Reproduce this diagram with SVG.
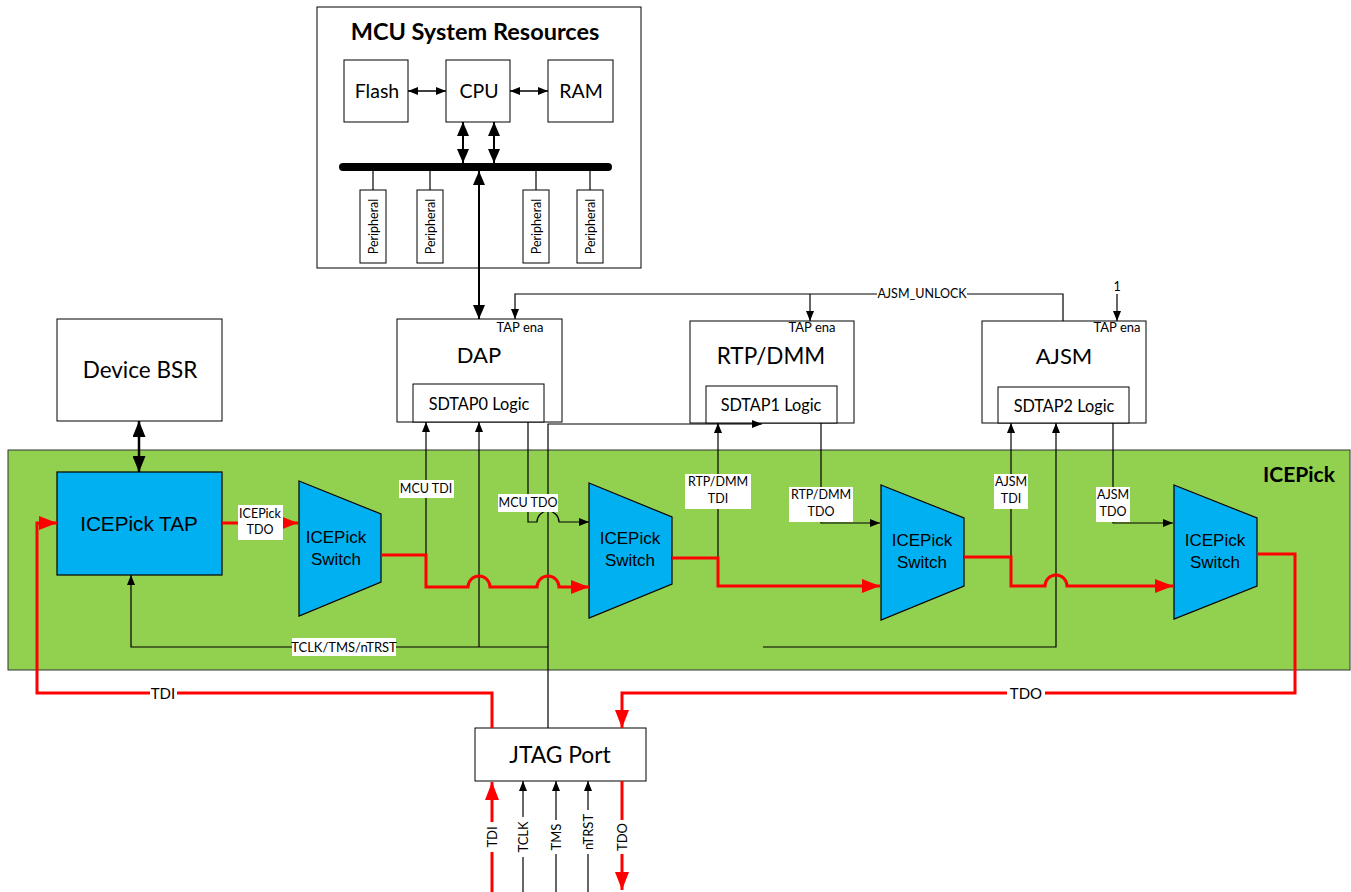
<svg xmlns="http://www.w3.org/2000/svg" width="1351" height="892" viewBox="0 0 1351 892">
<style>
.box{fill:#fff;stroke:#000;stroke-width:1}
.t{font-family:Lato,"Liberation Sans",sans-serif;fill:#000;text-anchor:middle}
.sw{font-family:"Liberation Sans",Arial,sans-serif;fill:#000;text-anchor:middle;font-size:17px}
.ln{fill:none;stroke:#000;stroke-width:1.2}
.red{fill:none;stroke:#f00;stroke-width:3}
.lbl{fill:#fff;stroke:none}
.swp{fill:#00B0F0;stroke:#000;stroke-width:1.2}
.s{font-size:12.5px}
</style>
<defs>
<marker id="ab" viewBox="0 0 10 8" refX="10" refY="4" markerWidth="10" markerHeight="8" markerUnits="userSpaceOnUse" orient="auto-start-reverse"><path d="M0,0L10,4L0,8z" fill="#000"/></marker>
<marker id="am" viewBox="0 0 14 12" refX="14" refY="6" markerWidth="14" markerHeight="12" markerUnits="userSpaceOnUse" orient="auto-start-reverse"><path d="M0,0L14,6L0,12z" fill="#000"/></marker>
<marker id="abig" viewBox="0 0 16 13" refX="16" refY="6.5" markerWidth="16" markerHeight="13" markerUnits="userSpaceOnUse" orient="auto-start-reverse"><path d="M0,0L16,6.5L0,13z" fill="#000"/></marker>
<marker id="ar" viewBox="0 0 18 14" refX="18" refY="7" markerWidth="18" markerHeight="14" markerUnits="userSpaceOnUse" orient="auto-start-reverse"><path d="M0,0L18,7L0,14z" fill="#f00"/></marker>
</defs>
<rect width="1351" height="892" fill="#fff"/>

<g id="icepick-region">
<rect x="8" y="450" width="1342" height="220" fill="#92D050" stroke="#333" stroke-width="1"/>
<text class="t" x="1299" y="482" font-size="21" font-weight="bold">ICEPick</text>
</g>

<g id="mcu">
<rect class="box" x="317" y="7" width="324" height="261"/>
<text class="t" x="475" y="40" font-size="23.5" font-weight="bold">MCU System Resources</text>
<g id="flash"><rect class="box" x="344" y="60" width="64" height="62"/><text class="t" x="377" y="98" font-size="19.5">Flash</text></g>
<g id="cpu"><rect class="box" x="446" y="60" width="64" height="62"/><text class="t" x="479" y="98" font-size="19.5">CPU</text></g>
<g id="ram"><rect class="box" x="548" y="60" width="65" height="62"/><text class="t" x="581" y="98" font-size="19.5">RAM</text></g>
<line x1="343" y1="167" x2="608" y2="167" stroke="#000" stroke-width="8" stroke-linecap="round"/>
<g id="periph">
<line class="ln" x1="373" y1="167" x2="373" y2="190"/>
<line class="ln" x1="430" y1="167" x2="430" y2="190"/>
<line class="ln" x1="536" y1="167" x2="536" y2="190"/>
<line class="ln" x1="590" y1="167" x2="590" y2="190"/>
<rect class="box" x="360" y="190" width="26" height="73"/>
<rect class="box" x="417" y="190" width="26" height="73"/>
<rect class="box" x="523" y="190" width="26" height="73"/>
<rect class="box" x="577" y="190" width="26" height="73"/>
<text class="t s" transform="translate(377.5,226.5) rotate(-90)">Peripheral</text>
<text class="t s" transform="translate(434.5,226.5) rotate(-90)">Peripheral</text>
<text class="t s" transform="translate(540.5,226.5) rotate(-90)">Peripheral</text>
<text class="t s" transform="translate(594.5,226.5) rotate(-90)">Peripheral</text>
</g>
</g>

<g id="device-bsr"><rect class="box" x="57" y="319" width="165" height="102"/><text class="t" x="140" y="378" font-size="22.5">Device BSR</text></g>

<g id="dap">
<rect class="box" x="397" y="319" width="165" height="103"/>
<text class="t" x="520" y="332" font-size="13">TAP ena</text>
<text class="t" x="479" y="363" font-size="22">DAP</text>
<rect class="box" x="413" y="384" width="131" height="38"/>
<text class="t" x="479" y="410" font-size="16.3">SDTAP0 Logic</text>
</g>
<g id="rtp">
<rect class="box" x="690" y="321" width="164" height="102"/>
<text class="t" x="812" y="332" font-size="13">TAP ena</text>
<text class="t" x="771" y="364" font-size="22.5">RTP/DMM</text>
<rect class="box" x="706" y="386" width="131" height="37"/>
<text class="t" x="771" y="411" font-size="16.3">SDTAP1 Logic</text>
</g>
<g id="ajsm">
<rect class="box" x="982" y="321" width="164" height="102"/>
<text class="t" x="1117" y="332" font-size="13">TAP ena</text>
<text class="t" x="1064" y="364" font-size="22">AJSM</text>
<rect class="box" x="998" y="387" width="131" height="36"/>
<text class="t" x="1064" y="412" font-size="16.3">SDTAP2 Logic</text>
</g>

<g id="icepick-tap"><rect x="57" y="472" width="165" height="103" fill="#00B0F0" stroke="#000" stroke-width="1.2"/><text class="sw" x="139" y="531" style="font-size:20.7px">ICEPick TAP</text></g>

<g id="switch1"><path class="swp" d="M299,481L381,514L381,582L299,616z"/><text class="sw" x="336" y="543">ICEPick</text><text class="sw" x="336" y="565">Switch</text></g>
<g id="switch2"><path class="swp" d="M589,483L672,517L672,584L589,618z"/><text class="sw" x="630" y="544">ICEPick</text><text class="sw" x="630" y="566">Switch</text></g>
<g id="switch3"><path class="swp" d="M881,485L964,518L964,586L881,620z"/><text class="sw" x="922" y="546">ICEPick</text><text class="sw" x="922" y="568">Switch</text></g>
<g id="switch4"><path class="swp" d="M1174,485L1257,518L1257,586L1174,619z"/><text class="sw" x="1215" y="546">ICEPick</text><text class="sw" x="1215" y="568">Switch</text></g>

<g id="jtag"><rect class="box" x="475" y="728" width="171" height="53"/><text class="t" x="560" y="763" font-size="22.8">JTAG Port</text></g>

<g id="connectors">
<line x1="408" y1="91" x2="446" y2="91" stroke="#000" stroke-width="1.5" marker-start="url(#ab)" marker-end="url(#ab)"/>
<line x1="510" y1="91" x2="548" y2="91" stroke="#000" stroke-width="1.5" marker-start="url(#ab)" marker-end="url(#ab)"/>
<line x1="463" y1="122" x2="463" y2="163" stroke="#000" stroke-width="2" marker-start="url(#am)" marker-end="url(#am)"/>
<line x1="494" y1="122" x2="494" y2="163" stroke="#000" stroke-width="2" marker-start="url(#am)" marker-end="url(#am)"/>
<line x1="479" y1="171" x2="479" y2="319" stroke="#000" stroke-width="2" marker-start="url(#am)" marker-end="url(#am)"/>
<line x1="139" y1="421" x2="139" y2="472" stroke="#000" stroke-width="2.5" marker-start="url(#abig)" marker-end="url(#abig)"/>
<path class="ln" d="M1063,321V294H515V319" marker-end="url(#ab)"/>
<path class="ln" d="M810,294V321" marker-end="url(#ab)"/>
<rect class="lbl" x="877" y="287" width="90" height="14"/>
<text class="t s" x="922" y="298">AJSM_UNLOCK</text>
<text class="t s" x="1117" y="291">1</text>
<path class="ln" d="M1117,294V321" marker-end="url(#ab)"/>
<path class="ln" d="M548,728V424H762" marker-end="url(#ab)"/>
<path class="ln" d="M548,647H131V575" marker-end="url(#ab)"/>
<path class="ln" d="M479,647V422" marker-end="url(#ab)"/>
<path class="ln" d="M763,647H1056V423" marker-end="url(#ab)"/>
<rect class="lbl" x="292" y="638" width="104" height="18"/>
<text class="t" x="344" y="652" font-size="13">TCLK/TMS/nTRST</text>
<path class="ln" d="M426,555V422" marker-end="url(#ab)"/>
<path class="ln" d="M718,558V423" marker-end="url(#ab)"/>
<path class="ln" d="M1011,557V423" marker-end="url(#ab)"/>
<path class="ln" d="M528,422V522H537A11,11 0 0 1 559,522H589" marker-end="url(#ab)"/>
<path class="ln" d="M821,423V523H880" marker-end="url(#ab)"/>
<path class="ln" d="M1113,423V523H1173" marker-end="url(#ab)"/>
<path class="red" d="M222,523H298" marker-end="url(#ar)"/>
<path class="red" d="M381,555H426V587H468A11,11 0 0 1 490,587H537A11,11 0 0 1 559,587H589" marker-end="url(#ar)"/>
<path class="red" d="M672,558H718V586H880" marker-end="url(#ar)"/>
<path class="red" d="M964,557H1011V586H1045A11,11 0 0 1 1067,586H1173" marker-end="url(#ar)"/>
<path class="red" d="M1257,554H1295V693H622V728" marker-end="url(#ar)"/>
<path class="red" d="M492,728V693H37V523H57" marker-end="url(#ar)"/>
<rect class="lbl" x="238" y="505" width="45" height="35"/>
<text class="t s" x="260" y="518">ICEPick</text>
<text class="t s" x="260" y="534">TDO</text>
<rect class="lbl" x="399" y="480" width="55" height="18"/>
<text class="t s" x="426" y="493">MCU TDI</text>
<rect class="lbl" x="498" y="494" width="60" height="18"/>
<text class="t s" x="528" y="507">MCU TDO</text>
<rect class="lbl" x="685" y="474" width="66" height="35"/>
<text class="t s" x="718" y="486">RTP/DMM</text>
<text class="t s" x="718" y="503">TDI</text>
<rect class="lbl" x="789" y="487" width="64" height="35"/>
<text class="t s" x="821" y="499">RTP/DMM</text>
<text class="t s" x="821" y="516">TDO</text>
<rect class="lbl" x="994" y="474" width="34" height="35"/>
<text class="t s" x="1011" y="486">AJSM</text>
<text class="t s" x="1011" y="503">TDI</text>
<rect class="lbl" x="1096" y="487" width="34" height="35"/>
<text class="t s" x="1113" y="499">AJSM</text>
<text class="t s" x="1113" y="516">TDO</text>
<rect class="lbl" x="150" y="684" width="27" height="18"/>
<text class="t" x="163" y="699" font-size="15">TDI</text>
<rect class="lbl" x="1007" y="684" width="38" height="18"/>
<text class="t" x="1026" y="699" font-size="15">TDO</text>
<path class="red" d="M492,892V782" marker-end="url(#ar)"/>
<path class="ln" d="M523,892V781" marker-end="url(#ab)"/>
<path class="ln" d="M556,892V781" marker-end="url(#ab)"/>
<path class="ln" d="M588,892V781" marker-end="url(#ab)"/>
<path class="red" d="M622,781V890" marker-end="url(#ar)"/>
<rect class="lbl" x="484" y="822" width="16" height="30"/>
<text class="t" font-size="13" transform="translate(496.5,837) rotate(-90)">TDI</text>
<rect class="lbl" x="515" y="817" width="16" height="40"/>
<text class="t" font-size="13" transform="translate(527.5,837) rotate(-90)">TCLK</text>
<rect class="lbl" x="548" y="820" width="16" height="34"/>
<text class="t" font-size="13" transform="translate(560.5,837) rotate(-90)">TMS</text>
<rect class="lbl" x="580" y="810" width="16" height="44"/>
<text class="t" font-size="13" transform="translate(592.5,832) rotate(-90)">nTRST</text>
<rect class="lbl" x="614" y="820" width="16" height="34"/>
<text class="t" font-size="13" transform="translate(626.5,837) rotate(-90)">TDO</text>
</g>
</svg>
